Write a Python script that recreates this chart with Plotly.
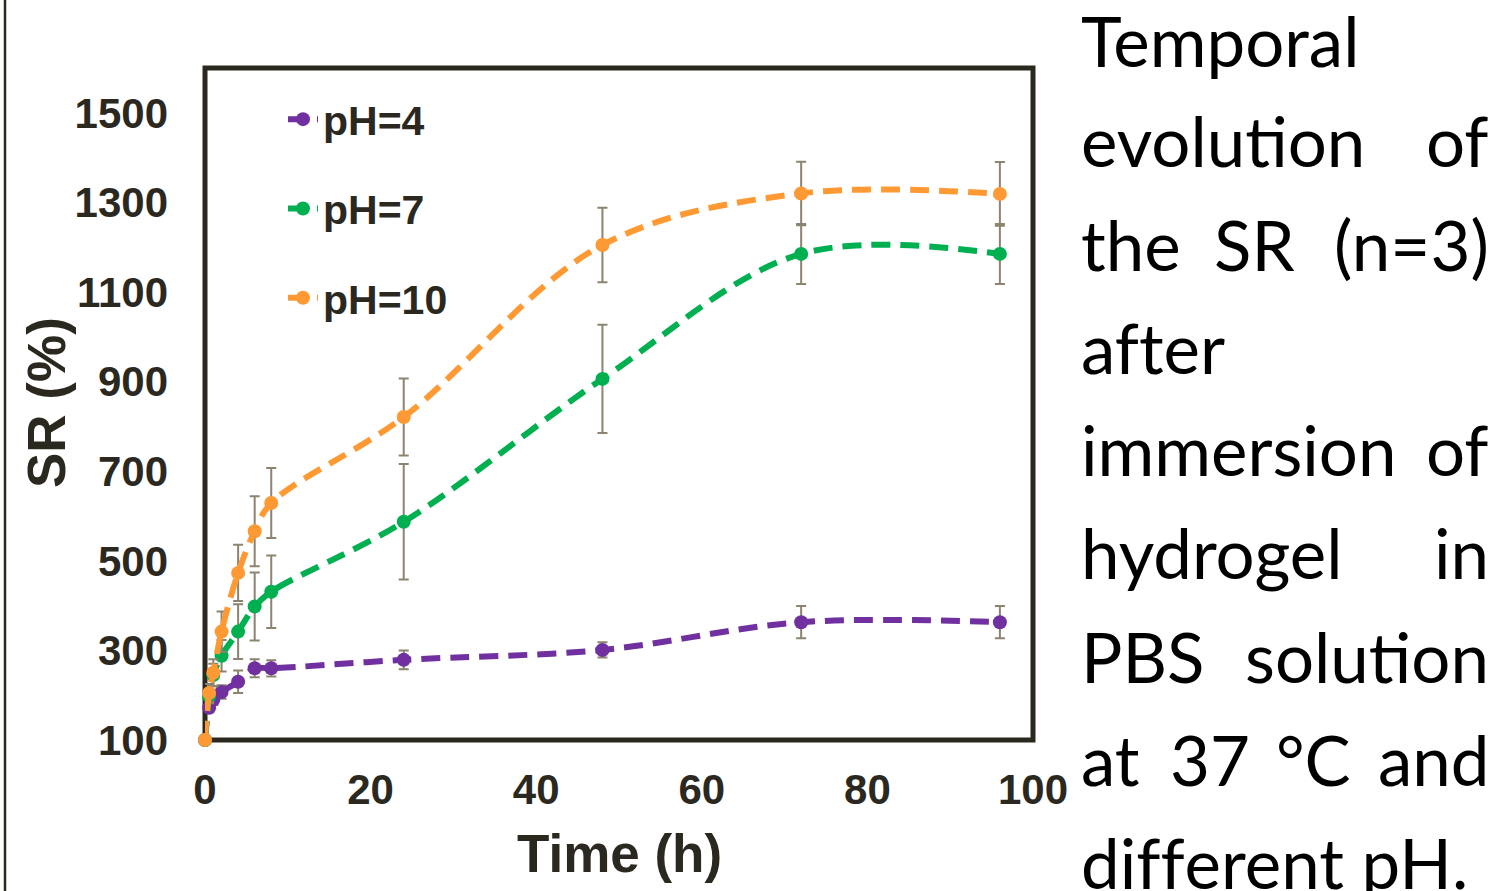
import plotly.graph_objects as go

# ---------------- data ----------------
time_h = [0, 0.5, 1, 2, 4, 6, 8, 24, 48, 72, 96]
series_names = ["pH=4", "pH=7", "pH=10"]
sr_ph4 = [100, 172, 190, 207, 230, 260, 260, 279, 301, 363, 363]
sr_ph7 = [100, 197, 245, 288, 342, 398, 431, 587, 906, 1185, 1185]
sr_ph10 = [100, 205, 250, 342, 473, 566, 629, 821, 1205, 1320, 1319]
err_ph4 = [0, 10, 12, 15, 25, 20, 18, 21, 17, 36, 36]
err_ph7 = [0, 15, 25, 35, 61, 76, 81, 129, 121, 67, 67]
err_ph10 = [0, 20, 30, 45, 63, 78, 78, 86, 83, 71, 71]
x_ticks = [0, 20, 40, 60, 80, 100]
y_ticks = [100, 300, 500, 700, 900, 1100, 1300, 1500]

colors = ["#7030A0", "#00B050", "#FF9933"]
ERR_COLOR = "#8C8470"
FRAME = "#2B291F"

# pixel geometry of plot area
W, H = 1497, 891
L, R, T, B = 205, 1033, 68, 740


def px(x):
    return (x - L) / (R - L)


def py(y):
    return (B - y) / (B - T)


fig = go.Figure()
for name, ys, es, c in zip(series_names, [sr_ph4, sr_ph7, sr_ph10],
                           [err_ph4, err_ph7, err_ph10], colors):
    fig.add_trace(go.Scatter(
        x=time_h, y=ys, name=name, mode="lines+markers",
        legendgroup=name,
        line=dict(color=c, width=6, dash="19px,10px", shape="spline", smoothing=1),
        marker=dict(color=c, size=14, symbol="circle"),
        error_y=dict(type="data", array=es, visible=True, color=ERR_COLOR,
                     thickness=2, width=5),
        cliponaxis=False,
    ))

tickfont = dict(family="Liberation Sans, Arial", size=42, color=FRAME, weight="bold")

fig.update_layout(
    width=W, height=H,
    margin=dict(l=L, r=W - R, t=T, b=H - B, pad=0),
    paper_bgcolor="white", plot_bgcolor="white",
    showlegend=True,
    legend=dict(
        x=px(283), y=py(86), xanchor="left", yanchor="top",
        bgcolor="rgba(0,0,0,0)", borderwidth=0,
        font=dict(family="Liberation Sans, Arial", size=41, color=FRAME, weight="bold"),
        tracegroupgap=33, traceorder="grouped",
        itemwidth=30,
    ),
    xaxis=dict(range=[0, 100], tickvals=x_ticks, showgrid=False, zeroline=False,
               showline=False, ticks="", tickfont=tickfont, ticklabelstandoff=21),
    yaxis=dict(range=[100, 1600], tickvals=y_ticks, showgrid=False, zeroline=False,
               showline=False, ticks="", tickfont=tickfont, ticklabelstandoff=36),
)

# plot frame
fig.add_shape(type="rect", xref="paper", yref="paper", x0=0, x1=1, y0=0, y1=1,
              line=dict(color=FRAME, width=5), layer="below")
# left vertical rule of the page
fig.add_shape(type="line", xref="paper", yref="paper", x0=px(5), x1=px(5),
              y0=py(-5), y1=py(H + 5), line=dict(color=FRAME, width=2.5))

# axis titles
fig.add_annotation(text="Time (h)", xref="paper", yref="paper", x=px(619), y=py(853),
                   xanchor="center", yanchor="middle", showarrow=False,
                   font=dict(family="Liberation Sans, Arial", size=53, color=FRAME, weight="bold"))
fig.add_annotation(text="SR (%)", xref="paper", yref="paper", x=px(46), y=py(403),
                   xanchor="center", yanchor="middle", showarrow=False, textangle=-90,
                   font=dict(family="Liberation Sans, Arial", size=53, color=FRAME, weight="bold"))

# caption text (justified words); ZWNJ keeps "f t" from forming a ligature
ZW = "\u200c"
cap_words = [
    ("Temporal", 1080, "left", 66),
    ("evolution", 1080, "left", 166), ("of", 1490, "right", 166),
    ("the", 1080, "left", 270), ("SR", 1254, "center", 270), ("(n=3)", 1490, "right", 270),
    ("af" + ZW + "ter", 1080, "left", 373),
    ("immersion", 1080, "left", 475), ("of", 1490, "right", 475),
    ("hydrogel", 1080, "left", 578), ("in", 1490, "right", 578),
    ("PBS", 1080, "left", 682), ("solution", 1490, "right", 682),
    ("at", 1080, "left", 785), ("37", 1210, "center", 785), ("°C", 1313, "center", 785),
    ("and", 1490, "right", 785),
    ("dif" + ZW + "f" + ZW + "erent pH.", 1080, "left", 888),
]
CAP_SIZE = 69
for txt, xpx, anc, base in cap_words:
    fig.add_annotation(text=txt, xref="paper", yref="paper", x=px(xpx),
                       y=py(base - 0.37 * CAP_SIZE), xanchor=anc, yanchor="middle",
                       showarrow=False, borderpad=0,
                       font=dict(family="Lato, Open Sans", size=CAP_SIZE, color="#000000"))

fig.write_html("out.html")
